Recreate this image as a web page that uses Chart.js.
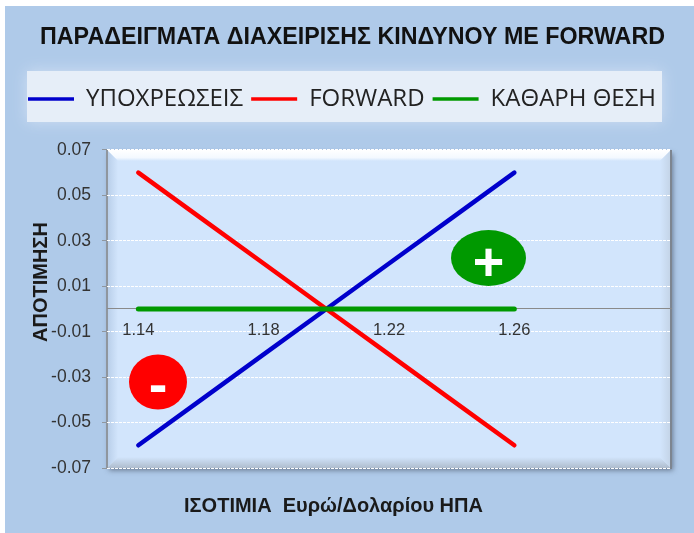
<!DOCTYPE html>
<html>
<head>
<meta charset="utf-8">
<style>
    html, body { margin: 0; padding: 0; background: #ffffff; }
    #wrap { width: 694px; height: 533px; }
</style>
<script src="https://cdn.jsdelivr.net/npm/chart.js@4"></script>
</head>
<body>
<div id="wrap"><canvas id="hedgeChart" width="694" height="533"></canvas></div>
<script>
// Chart data
const rates = [1.14, 1.16, 1.18, 1.20, 1.22, 1.24, 1.26];
const liabilities = [-0.06, -0.04, -0.02, 0, 0.02, 0.04, 0.06];
const forwardValues = [0.06, 0.04, 0.02, 0, -0.02, -0.04, -0.06];
const netPosition = [0, 0, 0, 0, 0, 0, 0];
const rateTicks = [1.14, 1.18, 1.22, 1.26];
const valueTicks = [-0.07, -0.05, -0.03, -0.01, 0.01, 0.03, 0.05, 0.07];

function toPoints(values) {
    return values.map(function(v, i) { return { x: rates[i], y: v }; });
}

// Panel, legend box, bevelled plot area, badges and axis titles
const backdrop = {
    id: 'backdrop',
    beforeInit: function(chart) {
        // leave room between the legend row and the plot
        const fit = chart.legend.fit;
        chart.legend.fit = function() {
            fit.call(chart.legend);
            this.height += 29;
        };
    },
    afterLayout: function(chart) {
        // the title and legend are not centred on the canvas in the reference
        chart.titleBlock.left = 40;
        chart.titleBlock.right = 665;
        chart.legend.left = 20;
    },
    beforeDraw: function(chart) {
        const c = chart.ctx;
        const a = chart.chartArea;
        c.save();
        c.fillStyle = '#afcae9';
        c.fillRect(5, 6, 689, 527);

        // legend box with soft glow
        c.save();
        c.shadowColor = '#d0dff3';
        c.shadowBlur = 14;
        c.fillStyle = '#e6eef8';
        c.fillRect(27, 71, 635, 51);
        c.restore();

        // plot area with drop shadow
        c.save();
        c.shadowColor = 'rgba(60,70,90,0.6)';
        c.shadowBlur = 5;
        c.shadowOffsetX = 2;
        c.shadowOffsetY = 3;
        c.fillStyle = '#d2e5fc';
        c.fillRect(a.left, a.top, a.width, a.height);
        c.restore();

        const b = 11;
        let g = c.createLinearGradient(0, a.top, 0, a.top + b);
        g.addColorStop(0, '#ffffff');
        g.addColorStop(0.7, '#f4f9ff');
        g.addColorStop(1, '#d2e5fc');
        c.fillStyle = g;
        bevel(c, a.left, a.top, a.right, a.top, a.right - b, a.top + b, a.left + b, a.top + b);

        g = c.createLinearGradient(a.left, 0, a.left + b, 0);
        g.addColorStop(0, '#b7cde8');
        g.addColorStop(1, '#d2e5fc');
        c.fillStyle = g;
        bevel(c, a.left, a.top, a.left + b, a.top + b, a.left + b, a.bottom - b, a.left, a.bottom);

        g = c.createLinearGradient(0, a.bottom - b, 0, a.bottom);
        g.addColorStop(0, '#d2e5fc');
        g.addColorStop(1, '#aebccd');
        c.fillStyle = g;
        bevel(c, a.left, a.bottom, a.left + b, a.bottom - b, a.right - b, a.bottom - b, a.right, a.bottom);

        g = c.createLinearGradient(a.right - b, 0, a.right, 0);
        g.addColorStop(0, '#d2e5fc');
        g.addColorStop(1, '#c3d3e6');
        c.fillStyle = g;
        bevel(c, a.right, a.top, a.right, a.bottom, a.right - b, a.bottom - b, a.right - b, a.top + b);

        // dark frame on the left and right
        c.fillStyle = '#8f969e';
        c.fillRect(a.left - 1, a.top, 2, a.height + 1);
        c.fillStyle = '#7d8590';
        c.fillRect(a.right - 1, a.top, 2, a.height + 1);
        c.restore();
    },
    afterDatasetsDraw: function(chart) {
        const c = chart.ctx;
        c.save();
        badge(c, 488.5, 258, 37.5, 28, '#009900', '+', 54, 280);
        badge(c, 158, 382, 29, 27.5, '#ff0000', '-', 56, 403);

        // axis titles
        c.fillStyle = '#1a1a1a';
        c.font = 'bold 20px "Liberation Sans"';
        c.textAlign = 'center';
        c.textBaseline = 'middle';
        c.fillText('ΙΣΟΤΙΜΙΑ  Ευρώ/Δολαρίου ΗΠΑ', 333.5, 506);
        c.translate(41, 282);
        c.rotate(-Math.PI / 2);
        c.fillText('ΑΠΟΤΙΜΗΣΗ', 0, 0);
        c.restore();
    }
};

function bevel(c, x1, y1, x2, y2, x3, y3, x4, y4) {
    c.beginPath();
    c.moveTo(x1, y1);
    c.lineTo(x2, y2);
    c.lineTo(x3, y3);
    c.lineTo(x4, y4);
    c.closePath();
    c.fill();
}

function badge(c, x, y, rx, ry, color, sign, size, signY) {
    c.fillStyle = color;
    c.beginPath();
    c.ellipse(x, y, rx, ry, 0, 0, Math.PI * 2);
    c.fill();
    c.fillStyle = '#ffffff';
    c.font = 'bold ' + size + 'px "Liberation Sans"';
    c.textAlign = 'center';
    c.textBaseline = 'alphabetic';
    c.fillText(sign, x, signY);
}

new Chart(document.getElementById('hedgeChart'), {
    type: 'line',
    data: {
        datasets: [
            {
                label: 'ΥΠΟΧΡΕΩΣΕΙΣ',
                data: toPoints(liabilities),
                borderColor: '#0000cc',
                backgroundColor: '#0000cc',
                borderWidth: 4.5,
                borderCapStyle: 'round',
                pointRadius: 0,
                order: 3
            },
            {
                label: 'FORWARD',
                data: toPoints(forwardValues),
                borderColor: '#ff0000',
                backgroundColor: '#ff0000',
                borderWidth: 4.5,
                borderCapStyle: 'round',
                pointRadius: 0,
                order: 2
            },
            {
                label: 'ΚΑΘΑΡΗ ΘΕΣΗ',
                data: toPoints(netPosition),
                borderColor: '#009900',
                backgroundColor: '#009900',
                borderWidth: 5,
                borderCapStyle: 'round',
                pointRadius: 0,
                order: 1
            }
        ]
    },
    options: {
        responsive: false,
        animation: false,
        layout: {
            padding: { top: 14, left: 0, right: 23, bottom: 65 }
        },
        plugins: {
            tooltip: { enabled: false },
            title: {
                display: true,
                text: 'ΠΑΡΑΔΕΙΓΜΑΤΑ ΔΙΑΧΕΙΡΙΣΗΣ ΚΙΝΔΥΝΟΥ ΜΕ FORWARD',
                color: '#111111',
                font: { family: '"Liberation Sans"', size: 23.3, weight: 'bold' },
                padding: { top: 10, bottom: 27 }
            },
            legend: {
                display: true,
                position: 'top',
                align: 'start',
                labels: {
                    usePointStyle: true,
                    pointStyle: 'line',
                    pointStyleWidth: 46,
                    padding: 8,
                    color: '#222222',
                    font: { family: '"Open Sans"', size: 24 },
                    generateLabels: function(chart) {
                        return chart.data.datasets.map(function(ds, i) {
                            return {
                                text: ds.label,
                                datasetIndex: i,
                                strokeStyle: ds.borderColor,
                                fillStyle: ds.borderColor,
                                fontColor: '#222222',
                                lineWidth: 3.5,
                                pointStyle: 'line'
                            };
                        });
                    }
                }
            }
        },
        scales: {
            x: {
                type: 'linear',
                min: 1.13,
                max: 1.31,
                position: { y: 0 },
                afterBuildTicks: function(axis) {
                    axis.ticks = rateTicks.map(function(v) { return { value: v }; });
                },
                grid: { display: false, drawTicks: false },
                border: { display: true, color: '#8a8a8a', width: 1 },
                ticks: {
                    autoSkip: false,
                    maxRotation: 0,
                    padding: 12,
                    color: '#333333',
                    font: { family: '"Liberation Sans"', size: 16.5 },
                    callback: function(v) { return v.toFixed(2); }
                }
            },
            y: {
                min: -0.07,
                max: 0.07,
                afterBuildTicks: function(axis) {
                    axis.ticks = valueTicks.map(function(v) { return { value: v }; });
                },
                afterFit: function(axis) { axis.width = 107; },
                grid: {
                    color: '#ffffff',
                    tickColor: '#8f969e',
                    tickLength: 5,
                    lineWidth: 1
                },
                border: { display: false, dash: [3, 1] },
                ticks: {
                    autoSkip: false,
                    padding: 11,
                    color: '#333333',
                    font: { family: '"Liberation Sans"', size: 17.5 },
                    callback: function(v) { return v.toFixed(2); }
                }
            }
        }
    },
    plugins: [backdrop]
});
</script>
</body>
</html>
